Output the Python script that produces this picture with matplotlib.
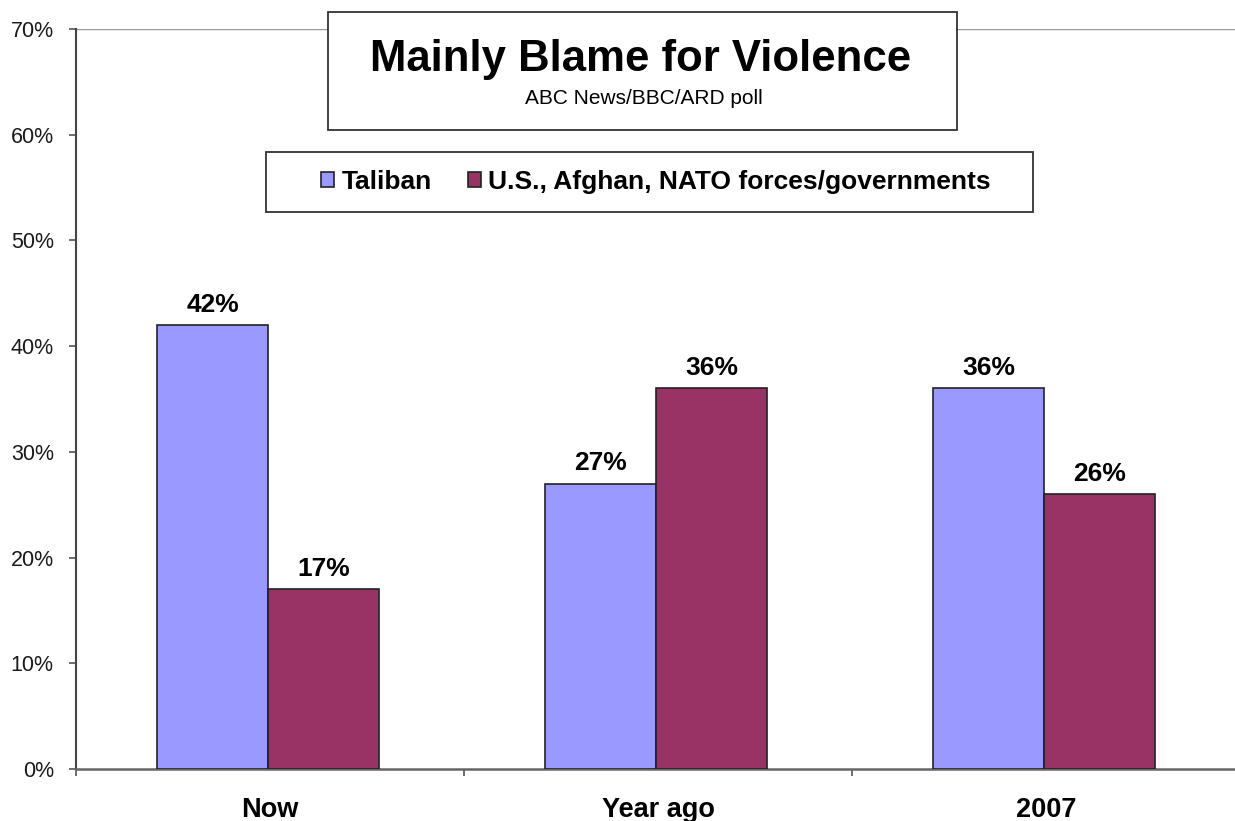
import numpy as np
import matplotlib.pyplot as plt
from matplotlib.patches import Rectangle

plt.rcParams['font.family'] = ['Liberation Sans', 'DejaVu Sans']

# Dados do gráfico
categorias = ['Now', 'Year ago', '2007']
taliban = [42, 27, 36]
forcas = [17, 36, 26]
nomes_series = ['Taliban', 'U.S., Afghan, NATO forces/governments']
ticks_y = [0, 10, 20, 30, 40, 50, 60, 70]

cor_taliban = '#9999FF'
cor_forcas = '#993366'

W, H = 1235, 821
fig = plt.figure(figsize=(W / 100, H / 100), dpi=100)
ax = fig.add_axes([76 / W, 1 - 769 / H, 1164 / W, 740 / H])

x = np.arange(len(categorias))
largura = 0.286
desloc = -0.005

barras1 = ax.bar(x + desloc - largura / 2, taliban, largura, color=cor_taliban,
                 edgecolor='#222222', linewidth=1.2, label=nomes_series[0], zorder=3)
barras2 = ax.bar(x + desloc + largura / 2, forcas, largura, color=cor_forcas,
                 edgecolor='#222222', linewidth=1.2, label=nomes_series[1], zorder=3)

for barras in (barras1, barras2):
    for b in barras:
        ax.annotate(f'{b.get_height():.0f}%',
                    (b.get_x() + b.get_width() / 2, b.get_height()),
                    xytext=(0, 6), textcoords='offset points',
                    ha='center', va='bottom', fontsize=19, fontweight='bold')

ax.set_xlim(-0.5, len(categorias) - 0.5)
ax.set_ylim(0, 70)
ax.set_yticks(ticks_y)
ax.set_yticklabels([f'{t}%' for t in ticks_y], fontsize=15.5, color='#1a1a1a')

# linha superior em 70%
ax.axhline(70, color='#999999', linewidth=1, zorder=1)

# eixo x: marcas nos limites das categorias, rótulos no centro
ax.set_xticks(np.arange(len(categorias) + 1) - 0.5)
ax.set_xticklabels([])
ax.set_xticks(x, minor=True)
ax.set_xticklabels(categorias, minor=True, fontsize=19.5, fontweight='bold')
ax.tick_params(axis='x', which='minor', length=0, pad=20)
ax.tick_params(axis='x', which='major', length=5, width=1.2, color='#555555')
ax.tick_params(axis='y', length=5, width=1.2, color='#555555', pad=11)

for lado in ['top', 'right']:
    ax.spines[lado].set_visible(False)
ax.spines['left'].set_color('#444444')
ax.spines['left'].set_linewidth(1.5)
ax.spines['bottom'].set_color('#666666')
ax.spines['bottom'].set_linewidth(1.8)

# caixa do título
fig.patches.append(Rectangle((328 / W, 1 - 130 / H), 629 / W, 118 / H,
                             transform=fig.transFigure, facecolor='white',
                             edgecolor='#333333', linewidth=1.3, zorder=5))
fig.text(641 / W, 1 - 59 / H, 'Mainly Blame for Violence', ha='center',
         va='center', fontsize=31.5, fontweight='bold', zorder=6)
fig.text(644 / W, 1 - 99 / H, 'ABC News/BBC/ARD poll', ha='center',
         va='center', fontsize=15, zorder=6)

# caixa da legenda
fig.patches.append(Rectangle((266 / W, 1 - 212 / H), 767 / W, 60 / H,
                             transform=fig.transFigure, facecolor='white',
                             edgecolor='#333333', linewidth=1.3, zorder=5))
leg = fig.legend(handles=[barras1, barras2], labels=nomes_series,
                 loc='center', bbox_to_anchor=(656 / W, 1 - 182 / H),
                 ncol=2, frameon=False,
                 prop={'size': 19, 'weight': 'bold'}, handlelength=0.5,
                 handleheight=0.5, columnspacing=1.35, handletextpad=0.28,
                 borderpad=0.2)
leg.set_zorder(7)

fig.savefig('out.png', dpi=100)
